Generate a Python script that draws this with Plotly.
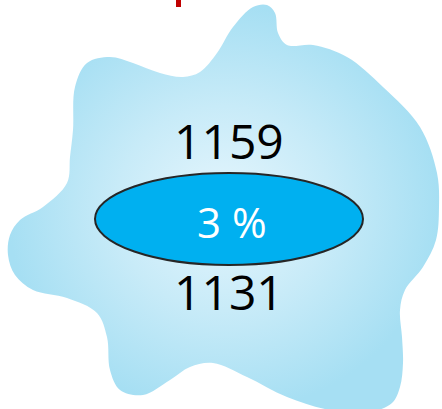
import plotly.graph_objects as go

# values shown in the infographic
top_value = [1159]
bottom_value = [1131]
change_pct = [3]

# decorative blob outline (pixel space)
blob_x = [267, 275, 278, 287, 313, 347, 383, 420, 437, 439, 436, 423, 405, 400, 402, 403, 400, 392, 370, 330,
          287, 247, 213, 190, 170, 143, 120, 110, 107, 97, 67, 33, 15, 8, 10, 20, 43, 67, 70, 73, 75, 87,
          110, 133, 160, 183, 200, 217, 233, 253, 267]
blob_y = [5, 13, 33, 45, 45, 57, 87, 127, 173, 207, 240, 267, 290, 310, 337, 363, 387, 403, 412, 410,
          397, 377, 363, 367, 380, 395, 390, 370, 337, 313, 298, 290, 275, 255, 235, 220, 207, 183, 157, 130, 87, 63,
          57, 63, 73, 77, 72, 53, 27, 7, 5]

fig = go.Figure()
fig.add_trace(go.Scatter(
    x=blob_x, y=blob_y, mode="lines", fill="toself",
    line=dict(width=0, shape="spline", color="rgba(0,0,0,0)"),
    fillgradient=dict(type="radial",
                      colorscale=[[0, "#e6f6fd"], [0.5, "#c8ebf8"], [1, "#a6dff3"]]),
    hoverinfo="skip", showlegend=False,
))

fig.add_shape(type="circle", x0=95, x1=363, y0=173, y1=265,
              fillcolor="#00b0f0", line=dict(color="#262626", width=2))
fig.add_shape(type="rect", x0=176, x1=181, y0=-2, y1=7,
              fillcolor="#c00000", line=dict(width=0))

font = "Open Sans, Liberation Sans, sans-serif"
fig.add_annotation(x=229, y=140, text=str(top_value[0]), showarrow=False,
                   font=dict(family=font, size=48, color="#000000"))
fig.add_annotation(x=229, y=291, text=str(bottom_value[0]), showarrow=False,
                   font=dict(family=font, size=48, color="#000000"))
fig.add_annotation(x=232, y=221, text=f"{change_pct[0]} %", showarrow=False,
                   font=dict(family=font, size=42, color="#ffffff"))

fig.update_xaxes(range=[0, 442], visible=False, fixedrange=True)
fig.update_yaxes(range=[409, 0], visible=False, fixedrange=True)
fig.update_layout(width=442, height=409, margin=dict(l=0, r=0, t=0, b=0),
                  paper_bgcolor="white", plot_bgcolor="white", showlegend=False)
fig.write_html("out.html", config={"displayModeBar": False},
               post_script="document.body.style.margin='0';document.body.style.overflow='hidden';")
